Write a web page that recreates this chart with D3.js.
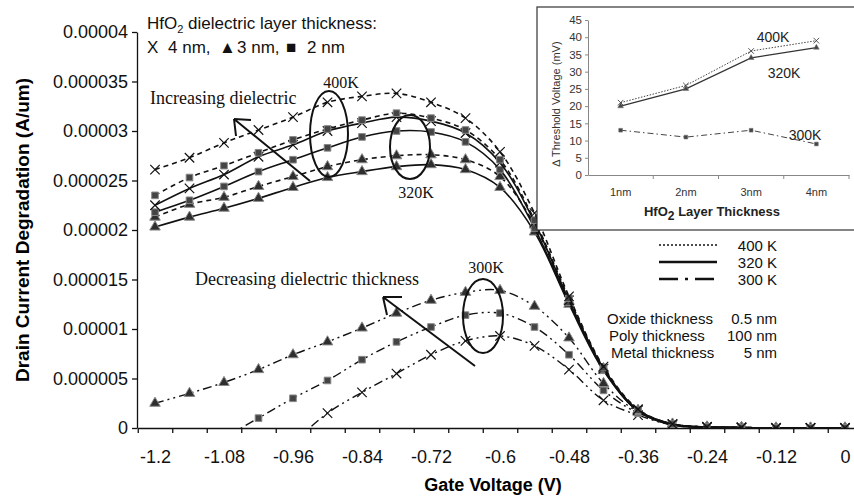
<!DOCTYPE html>
<html>
<head>
<meta charset="utf-8">
<script src="https://cdn.jsdelivr.net/npm/d3@7"></script>
<style>
  body { margin: 0; background: #fff; }
  svg { display: block; font-family: "Liberation Sans", Arial, sans-serif; }
  .serif { font-family: "Liberation Serif", "Times New Roman", serif; }
</style>
</head>
<body>
<svg id="chart" width="854" height="498"></svg>
<script>
// gate voltage (V), one point every 0.06 V
const voltages = [-1.2, -1.14, -1.08, -1.02, -0.96, -0.9, -0.84, -0.78, -0.72, -0.66, -0.6,
                  -0.54, -0.48, -0.42, -0.36, -0.3, -0.24, -0.18, -0.12, -0.06, 0];

// drain current degradation, in units of 1e-5 A/um
const k400_4nm = [2.61, 2.73, 2.88, 3.01, 3.14, 3.29, 3.35, 3.38, 3.29, 3.13, 2.79, 2.17, 1.33, 0.62, 0.19, 0.04, 0.01, 0.005, 0, 0, 0];
const k400_2nm = [2.35, 2.53, 2.65, 2.78, 2.91, 3.02, 3.11, 3.18, 3.13, 3.01, 2.71, 2.10, 1.31, 0.61, 0.18, 0.04, 0.01, 0.005, 0, 0, 0];
const k400_3nm = [2.13, 2.26, 2.33, 2.44, 2.54, 2.64, 2.71, 2.75, 2.76, 2.71, 2.54, 2.05, 1.28, 0.60, 0.18, 0.04, 0.01, 0.005, 0, 0, 0];
const k320_4nm = [2.25, 2.42, 2.56, 2.74, 2.86, 3.00, 3.08, 3.14, 3.10, 2.98, 2.68, 2.08, 1.29, 0.60, 0.18, 0.04, 0.01, 0.005, 0, 0, 0];
const k320_2nm = [2.18, 2.30, 2.44, 2.59, 2.71, 2.83, 2.94, 3.00, 2.99, 2.89, 2.61, 2.02, 1.27, 0.59, 0.17, 0.03, 0.01, 0.005, 0, 0, 0];
const k320_3nm = [2.03, 2.13, 2.22, 2.32, 2.43, 2.53, 2.59, 2.64, 2.66, 2.61, 2.43, 1.98, 1.25, 0.58, 0.17, 0.03, 0.01, 0.005, 0, 0, 0];
const k300_3nm = [0.25, 0.35, 0.46, 0.59, 0.74, 0.87, 1.01, 1.16, 1.29, 1.37, 1.39, 1.23, 0.91, 0.45, 0.16, 0.04, 0.01, 0.005, 0, 0, 0];
const k300_2nm = [null, null, -0.10, 0.10, 0.30, 0.48, 0.69, 0.87, 1.02, 1.14, 1.16, 1.02, 0.74, 0.38, 0.15, 0.04, 0.01, 0.005, 0, 0, 0];
const k300_4nm = [null, null, null, null, -0.15, 0.15, 0.36, 0.55, 0.74, 0.88, 0.93, 0.83, 0.59, 0.28, 0.13, 0.03, 0.01, 0.005, 0, 0, 0];

const yTicks = [0, 0.000005, 0.00001, 0.000015, 0.00002, 0.000025, 0.00003, 0.000035, 0.00004];
const yTickLabels = ["0", "0.000005", "0.00001", "0.000015", "0.00002", "0.000025", "0.00003", "0.000035", "0.00004"];
const xLabelValues = [-1.2, -1.08, -0.96, -0.84, -0.72, -0.6, -0.48, -0.36, -0.24, -0.12, 0];
const xTickLabels = ["-1.2", "-1.08", "-0.96", "-0.84", "-0.72", "-0.6", "-0.48", "-0.36", "-0.24", "-0.12", "0"];

// inset: threshold voltage shift (mV) vs HfO2 thickness
const insetCats = ["1nm", "2nm", "3nm", "4nm"];
const inset400 = [21, 26, 36, 39];
const inset320 = [20, 25, 34, 37];
const inset300 = [13, 11, 13, 9];
const insetYTicks = [0, 5, 10, 15, 20, 25, 30, 35, 40, 45];

const styles = {
  400: { dash: "5,4", width: 1.6 },
  320: { dash: null, width: 1.6 },
  300: { dash: "9,4,2,4,2,4", width: 1.4 }
};

const series = [
  { temp: 300, marker: "x", values: k300_4nm },
  { temp: 300, marker: "sq", values: k300_2nm },
  { temp: 300, marker: "tri", values: k300_3nm },
  { temp: 320, marker: "tri", values: k320_3nm },
  { temp: 400, marker: "tri", values: k400_3nm },
  { temp: 320, marker: "sq", values: k320_2nm },
  { temp: 320, marker: "x", values: k320_4nm },
  { temp: 400, marker: "sq", values: k400_2nm },
  { temp: 400, marker: "x", values: k400_4nm }
];

const svg = d3.select("#chart");

// scales - x is a category-like axis, ticks sit between the points
const x = d3.scaleLinear().domain([-1.23, 0.03]).range([137.75, 862.25]);
const y = d3.scaleLinear().domain([0, 0.00004]).range([428, 32]);

svg.append("defs").append("clipPath").attr("id", "plot")
  .append("rect").attr("x", 137).attr("y", 0).attr("width", 717).attr("height", 428);

// axes
const yAxis = svg.append("g")
  .attr("transform", "translate(137,0)")
  .call(d3.axisLeft(y).tickValues(yTicks).tickFormat((d, i) => yTickLabels[i])
    .tickSize(5).tickSizeOuter(0).tickPadding(4));
yAxis.selectAll("text").attr("font-size", 18).attr("fill", "#111");

const tickBounds = voltages.map(v => v - 0.03).concat([0.03]);
svg.append("g")
  .attr("transform", "translate(0,428)")
  .call(d3.axisBottom(x).tickValues(tickBounds).tickFormat("").tickSize(5).tickSizeOuter(0));

const xLab = svg.append("g")
  .attr("transform", "translate(0,428)")
  .call(d3.axisBottom(x).tickValues(xLabelValues).tickFormat((d, i) => xTickLabels[i])
    .tickSize(0).tickPadding(22));
xLab.select(".domain").remove();
xLab.selectAll("text").attr("font-size", 18).attr("fill", "#111");

svg.selectAll(".domain, .tick line").attr("stroke", "#111").attr("stroke-width", 1.3);

// axis titles
svg.append("text")
  .attr("transform", "translate(29,230) rotate(-90)")
  .attr("text-anchor", "middle").attr("font-size", 19).attr("font-weight", "bold")
  .text("Drain Current Degradation (A/um)");
svg.append("text")
  .attr("x", 493).attr("y", 491)
  .attr("text-anchor", "middle").attr("font-size", 18).attr("font-weight", "bold")
  .text("Gate Voltage (V)");

// curves
const plot = svg.append("g").attr("clip-path", "url(#plot)");
const line = d3.line()
  .defined(d => d.v !== null)
  .x(d => x(d.t))
  .y(d => y(d.v * 1e-5))
  .curve(d3.curveCatmullRom.alpha(0.5));

function markerPath(type, s) {
  if (type === "x") return d3.symbol(d3.symbolTimes, s.x)();
  if (type === "tri") return d3.symbol(d3.symbolTriangle, s.tri)();
  return d3.symbol(d3.symbolSquare, s.sq)();
}

series.forEach(s => {
  const pts = voltages.map((t, i) => ({ t: t, v: s.values[i] }));
  const st = styles[s.temp];
  plot.append("path")
    .datum(pts)
    .attr("fill", "none")
    .attr("stroke", "#111")
    .attr("stroke-width", st.width)
    .attr("stroke-dasharray", st.dash)
    .attr("d", line);

  plot.selectAll(null)
    .data(pts.filter(d => d.v !== null && d.v >= 0))
    .join("path")
    .attr("transform", d => `translate(${x(d.t)},${y(d.v * 1e-5)})`)
    .attr("d", markerPath(s.marker, { x: 60, tri: 48, sq: 44 }))
    .attr("fill", s.marker === "x" ? "none" : (s.marker === "tri" ? "#2e2e2e" : "#444"))
    .attr("stroke", s.marker === "x" ? "#111" : "#888")
    .attr("stroke-width", s.marker === "x" ? 1.2 : 1);
});

// annotations
svg.append("text").attr("x", 147).attr("y", 29).attr("font-size", 17).attr("fill", "#111")
  .call(t => {
    t.append("tspan").text("HfO");
    t.append("tspan").attr("font-size", 11).attr("dy", 4).text("2");
    t.append("tspan").attr("dy", -4).text(" dielectric layer thickness:");
  });
const leg2 = [["X", 147], ["4 nm,", 168], ["\u25B2", 219], ["3 nm,", 237], ["\u25A0", 286], ["2 nm", 307]];
svg.selectAll(null).data(leg2).join("text")
  .attr("x", d => d[1]).attr("y", 53).attr("font-size", 17).attr("fill", "#111")
  .text(d => d[0]);

const ann = svg.append("g").attr("class", "serif").attr("fill", "#111");
ann.append("text").attr("x", 150).attr("y", 104).attr("font-size", 18).text("Increasing dielectric");
ann.append("text").attr("x", 195).attr("y", 285).attr("font-size", 18).text("Decreasing dielectric thickness");
ann.append("text").attr("x", 341).attr("y", 88).attr("font-size", 16).attr("text-anchor", "middle").text("400K");
ann.append("text").attr("x", 416).attr("y", 198).attr("font-size", 16).attr("text-anchor", "middle").text("320K");
ann.append("text").attr("x", 486).attr("y", 273).attr("font-size", 16).attr("text-anchor", "middle").text("300K");

const shapes = svg.append("g").attr("fill", "none").attr("stroke", "#111").attr("stroke-width", 2);
shapes.append("ellipse").attr("cx", 329).attr("cy", 134).attr("rx", 19).attr("ry", 43);
shapes.append("ellipse").attr("cx", 410).attr("cy", 147).attr("rx", 20).attr("ry", 32);
shapes.append("ellipse").attr("cx", 483).attr("cy", 316).attr("rx", 20).attr("ry", 37);
shapes.append("path").attr("d", "M310,181L234,119M234,119L251,120M234,119L236,136");
shapes.append("path").attr("d", "M475,366L383,297M383,297L402,297M383,297L387,315");

// line style legend
const legItems = [
  { label: "400 K", y: 245, ty: 251, dash: "2,2", w: 1.6 },
  { label: "320 K", y: 262, ty: 268, dash: null, w: 2.6 },
  { label: "300 K", y: 279, ty: 285, dash: "19,7,3,7", w: 2.6 }
];
const lg = svg.append("g");
lg.selectAll("line").data(legItems).join("line")
  .attr("x1", 659).attr("x2", 717).attr("y1", d => d.y).attr("y2", d => d.y)
  .attr("stroke", "#111").attr("stroke-width", d => d.w).attr("stroke-dasharray", d => d.dash);
lg.selectAll("text").data(legItems).join("text")
  .attr("x", 777).attr("y", d => d.ty).attr("text-anchor", "end").attr("font-size", 15).attr("fill", "#111")
  .text(d => d.label);

const params = [["Oxide thickness", "0.5 nm", 607, 324], ["Poly thickness", "100 nm", 609, 341], ["Metal thickness", "5 nm", 611, 358]];
svg.selectAll(null).data(params).join("text")
  .attr("x", d => d[2]).attr("y", d => d[3]).attr("font-size", 15).attr("fill", "#111").text(d => d[0]);
svg.selectAll(null).data(params).join("text")
  .attr("x", 777).attr("y", d => d[3]).attr("text-anchor", "end").attr("font-size", 15).attr("fill", "#111").text(d => d[1]);

// inset chart
const inset = svg.append("g");
inset.append("rect").attr("x", 537).attr("y", 7).attr("width", 330).attr("height", 223)
  .attr("fill", "#fff").attr("stroke", "#333").attr("stroke-width", 1.2);

const ix = d3.scaleBand().domain(insetCats).range([588, 849]);
const iy = d3.scaleLinear().domain([0, 45]).range([175, 20]);

const iyAxis = inset.append("g").attr("transform", "translate(588,0)")
  .call(d3.axisLeft(iy).tickValues(insetYTicks).tickSize(3).tickSizeOuter(0).tickPadding(3));
iyAxis.selectAll("text").attr("font-size", 11.5).attr("fill", "#333");

const ixAxis = inset.append("g").attr("transform", "translate(0,175)")
  .call(d3.axisBottom(ix).tickSize(0).tickPadding(13));
ixAxis.selectAll("text").attr("font-size", 11).attr("fill", "#333");
ixAxis.selectAll(null).data(insetCats).join("line")
  .attr("x1", d => ix(d) + ix.bandwidth()).attr("x2", d => ix(d) + ix.bandwidth())
  .attr("y1", 0).attr("y2", 4).attr("stroke", "#888");
inset.selectAll(".domain, .tick line").attr("stroke", "#888");

inset.append("text")
  .attr("transform", "translate(560,104) rotate(-90)")
  .attr("text-anchor", "middle").attr("font-size", 11).attr("fill", "#333")
  .text("\u2206 Threshold Voltage (mV)");
inset.append("text").attr("x", 712).attr("y", 216).attr("text-anchor", "middle")
  .attr("font-size", 13).attr("font-weight", "bold").attr("fill", "#222")
  .call(t => {
    t.append("tspan").text("HfO");
    t.append("tspan").attr("font-size", 12).attr("dy", 4).text("2");
    t.append("tspan").attr("dy", -4).text(" Layer Thickness");
  });

const insetSeries = [
  { vals: inset300, dash: "6,3,1.5,3", w: 1, marker: "sq", color: "#444" },
  { vals: inset320, dash: null, w: 1.2, marker: "tri", color: "#333" },
  { vals: inset400, dash: "1.5,1.5", w: 1, marker: "x", color: "#444" }
];
const iline = d3.line().x((d, i) => ix(insetCats[i]) + ix.bandwidth() / 2).y(d => iy(d));
insetSeries.forEach(s => {
  inset.append("path").datum(s.vals)
    .attr("fill", "none").attr("stroke", s.color).attr("stroke-width", s.w)
    .attr("stroke-dasharray", s.dash).attr("d", iline);
  inset.selectAll(null).data(s.vals).join("path")
    .attr("transform", (d, i) => `translate(${ix(insetCats[i]) + ix.bandwidth() / 2},${iy(d)})`)
    .attr("d", markerPath(s.marker, { x: 22, tri: 14, sq: 14 }))
    .attr("fill", s.marker === "x" ? "none" : "#444")
    .attr("stroke", s.marker === "x" ? "#444" : "#777")
    .attr("stroke-width", s.marker === "x" ? 0.9 : 0.6);
});

inset.append("text").attr("x", 773).attr("y", 42).attr("text-anchor", "middle").attr("font-size", 14).attr("fill", "#222").text("400K");
inset.append("text").attr("x", 784).attr("y", 78).attr("text-anchor", "middle").attr("font-size", 14).attr("fill", "#222").text("320K");
inset.append("text").attr("x", 805).attr("y", 140).attr("text-anchor", "middle").attr("font-size", 14).attr("fill", "#222").text("300K");
</script>
</body>
</html>
